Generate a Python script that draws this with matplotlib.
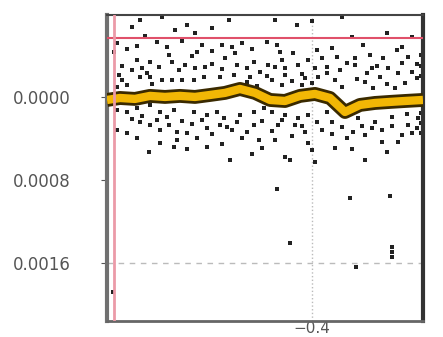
import matplotlib
matplotlib.use("Agg")
import matplotlib.pyplot as plt
import matplotlib.patheffects as pe

# scatter points (x, y in units of 1e-4)
pts_x = [-0.744, -0.760, -0.674, -0.650, -0.634, -0.566, -0.734, -0.630, -0.580, -0.560,
         -0.554, -0.574, -0.516, -0.750, -0.724, -0.686, -0.706, -0.740, -0.730, -0.744,
         -0.724, -0.666, -0.654, -0.634, -0.614, -0.616, -0.636, -0.660, -0.680, -0.584,
         -0.556, -0.530, -0.524, -0.504, -0.780, -0.786, -0.790, -0.770, -0.796,
         -0.770, -0.750, -0.724, -0.704, -0.676, -0.636, -0.610, -0.590, -0.576, -0.544,
         -0.516, -0.496, -0.744, -0.724, -0.704, -0.686, -0.670, -0.650, -0.670, -0.630,
         -0.610, -0.584, -0.560, -0.540, -0.506, -0.516, -0.770, -0.704, -0.676, -0.610,
         -0.726, -0.500, -0.564, -0.790,
         -0.474, -0.320, -0.200, -0.298, -0.360, -0.464, -0.438, -0.390, -0.220, -0.488,
         -0.474, -0.454, -0.408, -0.380, -0.350, -0.314, -0.284, -0.258, -0.230, -0.208,
         -0.428, -0.394, -0.370, -0.344, -0.314, -0.280, -0.248, -0.228, -0.200, -0.454,
         -0.414, -0.388, -0.354, -0.340, -0.294, -0.264, -0.278, -0.234, -0.214, -0.480,
         -0.460, -0.420,
         -0.480, -0.454, -0.428, -0.408, -0.370, -0.340, -0.308, -0.274, -0.240, -0.208,
         -0.188, -0.468, -0.434, -0.414, -0.380, -0.360, -0.318, -0.294, -0.260, -0.228,
         -0.200, -0.474, -0.408, -0.354, -0.454, -0.444, -0.294, -0.394,
         -0.470, -0.324, -0.244, -0.444, -0.240, -0.240, -0.240, -0.312, -0.798,
         -0.79, -0.77, -0.75, -0.71, -0.69, -0.66, -0.62, -0.60, -0.54, -0.52, -0.49, -0.47,
         -0.78, -0.76, -0.72, -0.70, -0.68, -0.64, -0.60, -0.58, -0.55, -0.53, -0.51, -0.49,
         -0.46, -0.44, -0.42, -0.40, -0.37, -0.33, -0.31, -0.29, -0.27, -0.25, -0.22, -0.19,
         -0.19,
         -0.79, -0.76, -0.74, -0.71, -0.69, -0.66, -0.64, -0.62, -0.60, -0.57, -0.55, -0.53,
         -0.50, -0.48, -0.46, -0.44, -0.42, -0.39, -0.36, -0.34, -0.33, -0.30, -0.28, -0.26,
         -0.24, -0.22, -0.21, -0.19, -0.75, -0.65, -0.58, -0.52, -0.40, -0.32, -0.25,
         -0.70, -0.60, -0.43, -0.40, -0.25, -0.34,
         -0.182, -0.182, -0.182, -0.182, -0.182, -0.182]
pts_y = [-7.42, -6.75, -6.46, -6.94, -6.17, -7.42, -5.88, -4.34, -5.01, -4.82,
         -4.24, -3.76, -3.37, -3.57, -3.37, -4.05, -2.89, -2.80, -2.31, -1.93,
         -1.93, -2.60, -3.08, -2.80, -2.89, -1.93, -1.64, -1.64, -1.64, -1.93,
         -2.12, -2.80, -1.93, -2.41, -1.64, -2.12, -0.96, -1.16, -4.34,
         1.45, 1.06, 0.77, 1.45, 1.25, 1.45, 1.73, 1.45, 2.02, 1.73,
         1.45, 1.06, 2.41, 2.70, 3.18, 2.70, 3.37, 3.47, 4.14, 3.95,
         2.99, 2.70, 3.18, 3.95, 4.14, 2.70, 3.47, 4.43, 4.82, 4.82,
         5.30, 4.92, 6.07, 3.18,
         -7.42, -5.78, -5.78, -5.01, -4.72, -4.34, -4.24, -4.53, -4.82, -3.08,
         -2.89, -2.80, -3.57, -3.76, -3.86, -3.76, -4.05, -3.76, -4.53, -3.86,
         -3.08, -2.80, -2.89, -2.60, -3.08, -2.80, -2.80, -2.31, -2.41, -2.12,
         -1.83, -1.93, -1.64, -0.96, -1.45, -1.93, -0.87, -0.87, -1.35, -1.64,
         -1.16, -1.16,
         1.45, 1.73, 2.02, 1.73, 1.45, 1.73, 2.02, 2.41, 1.93, 2.70,
         2.02, 2.70, 2.70, 3.37, 3.18, 2.41, 3.37, 3.66, 4.34, 4.34,
         3.47, 4.14, 4.43, 4.92, 5.78, 6.07, 6.07, 6.27,
         8.87, 9.73, 9.54, 14.07, 14.46, 14.94, 15.42, 16.39, 18.80,
         -5.2, -4.6, -4.9, -5.3, -4.8, -5.4, -5.0, -4.4, -5.2, -4.6, -5.3, -5.0,
         -3.0, -2.6, -1.2, -1.6, -3.4, -3.9, -3.2, -2.7, -3.1, -1.4, -1.1, -2.0,
         -3.6, -1.5, -2.2, -1.3, -2.3, -3.3, -1.7, -2.3, -3.0, -1.2, -3.3, -1.8,
         -3.2,
         1.3, 2.1, 1.8, 2.2, 1.9, 2.3, 2.6, 2.2, 3.6, 2.9, 2.4, 3.4,
         2.3, 3.3, 2.2, 3.8, 2.8, 2.4, 3.6, 2.9, 4.0, 2.8, 3.0, 3.2,
         2.8, 3.7, 1.6, 3.0, 4.0, 5.0, 4.5, 5.5, 5.1, 5.0, 5.3,
         -7.7, -6.6, -6.9, -7.3, -6.2, -7.7,
         -4.0, -3.0, -2.0, 1.5, 2.5, 3.5]

# running line
line_x = [-0.810, -0.784, -0.754, -0.724, -0.694, -0.664, -0.634, -0.604, -0.574, -0.544, -0.514,
          -0.484, -0.454, -0.424, -0.394, -0.364, -0.334, -0.304, -0.274, -0.244, -0.214, -0.178]
line_y = [0.29, 0.10, 0.19, -0.10, 0.00, -0.10, 0.00, -0.19, -0.39, -0.77, -0.39,
          0.29, 0.39, -0.10, -0.29, 0.10, 1.45, 0.77, 0.58, 0.48, 0.39, 0.29]

limit_y = -5.69
limit_x = -0.796
ytick_vals = [0, 8, 16]
ytick_labels = ['0.0000', '0.0008', '0.0016']
xtick_vals = [-0.4]

fig = plt.figure(figsize=(4.43, 3.37), dpi=100)
ax = fig.add_axes([0.2415, 0.0475, 0.7133, 0.908])

ax.axvline(-0.4, color='#bbbbbb', lw=1, ls=':', zorder=0)
ax.axhline(16, color='#bbbbbb', lw=1, ls=(0, (4, 4)), zorder=0)

ax.scatter(pts_x, pts_y, marker='s', s=8, color='#222222', linewidths=0, zorder=2)

ax.plot(line_x, line_y, color='#f2b705', lw=6, zorder=3, solid_capstyle='butt',
        path_effects=[pe.Stroke(linewidth=10, foreground='#3a2a00'), pe.Normal()])

ax.axhline(limit_y, color='#e0506a', lw=1.5, zorder=4)
ax.axvline(limit_x, color='#eb9aa8', lw=2, zorder=4)

ax.set_xlim(-0.81, -0.178)
ax.set_ylim(21.6, -7.9)
ax.set_yticks(ytick_vals, ytick_labels)
ax.set_xticks(xtick_vals)

ax.tick_params(axis='y', labelsize=12, labelcolor='#555555', pad=22, length=4, color='#555555')
ax.tick_params(axis='x', labelsize=11, labelcolor='#555555', pad=-1, length=1, color='#555555')

ax.spines['left'].set_color('#707070')
ax.spines['left'].set_linewidth(3)
ax.spines['right'].set_color('#333333')
ax.spines['right'].set_linewidth(3)
ax.spines['top'].set_color('#444444')
ax.spines['top'].set_linewidth(1.5)
ax.spines['bottom'].set_color('#666666')
ax.spines['bottom'].set_linewidth(2)

plt.savefig('out.png', dpi=100)
